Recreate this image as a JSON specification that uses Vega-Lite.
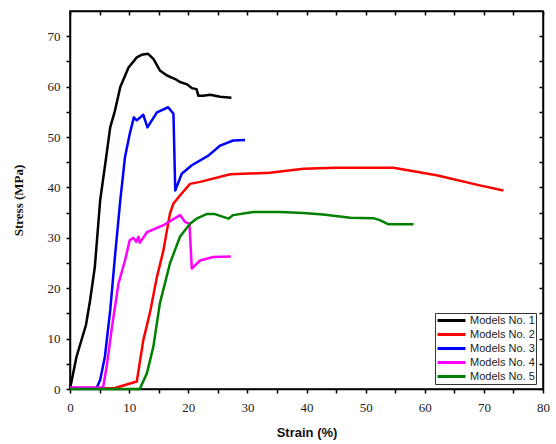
{
  "$schema": "https://vega.github.io/schema/vega-lite/v6.json",
  "width": 473,
  "height": 378,
  "autosize": "none",
  "padding": {"left": 70, "top": 11, "right": 13, "bottom": 55},
  "background": "white",
  "config": {"view": {"stroke": null}, "axis": {"grid": false}},
  "layer": [
    {
      "data": {"values": [{"x0": 0, "x1": 80, "y0": 0, "y1": 75}]},
      "mark": {"type": "rect", "filled": false, "color": "#000", "strokeWidth": 1.5},
      "encoding": {
        "x": {
          "field": "x0", "type": "quantitative",
          "scale": {"domain": [0, 80], "nice": false, "zero": false},
          "axis": {
            "orient": "top",
            "values": [0, 5, 10, 15, 20, 25, 30, 35, 40, 45, 50, 55, 60, 65, 70, 75, 80],
            "labels": false, "title": null,
            "tickSize": -4, "tickColor": "#000", "tickWidth": 1.5,
            "domainColor": "#000", "domainWidth": 1.5
          }
        },
        "x2": {"field": "x1"},
        "y": {
          "field": "y0", "type": "quantitative",
          "scale": {"domain": [0, 75], "nice": false, "zero": false},
          "axis": {
            "orient": "right",
            "values": [0, 5, 10, 15, 20, 25, 30, 35, 40, 45, 50, 55, 60, 65, 70],
            "labels": false, "title": null,
            "tickSize": -4, "tickColor": "#000", "tickWidth": 1.5,
            "domainColor": "#000", "domainWidth": 1.5
          }
        },
        "y2": {"field": "y1"}
      }
    },
    {
      "data": {"values": [
        {"m": "Models No. 1", "x": 0, "y": 0},
        {"m": "Models No. 1", "x": 1.1, "y": 6.4},
        {"m": "Models No. 1", "x": 2.7, "y": 12.7},
        {"m": "Models No. 1", "x": 3.4, "y": 17.6},
        {"m": "Models No. 1", "x": 4.2, "y": 24.2},
        {"m": "Models No. 1", "x": 5.1, "y": 37.4},
        {"m": "Models No. 1", "x": 6.2, "y": 46.7},
        {"m": "Models No. 1", "x": 6.8, "y": 51.9},
        {"m": "Models No. 1", "x": 7.6, "y": 55.2},
        {"m": "Models No. 1", "x": 8.5, "y": 59.9},
        {"m": "Models No. 1", "x": 9.9, "y": 63.8},
        {"m": "Models No. 1", "x": 11.3, "y": 65.8},
        {"m": "Models No. 1", "x": 12.1, "y": 66.3},
        {"m": "Models No. 1", "x": 13.2, "y": 66.5},
        {"m": "Models No. 1", "x": 14.1, "y": 65.5},
        {"m": "Models No. 1", "x": 15.2, "y": 63.2},
        {"m": "Models No. 1", "x": 16.4, "y": 62.2},
        {"m": "Models No. 1", "x": 17.8, "y": 61.5},
        {"m": "Models No. 1", "x": 18.6, "y": 60.9},
        {"m": "Models No. 1", "x": 19.7, "y": 60.5},
        {"m": "Models No. 1", "x": 20.6, "y": 59.7},
        {"m": "Models No. 1", "x": 21.4, "y": 59.5},
        {"m": "Models No. 1", "x": 21.7, "y": 58.2},
        {"m": "Models No. 1", "x": 22.5, "y": 58.2},
        {"m": "Models No. 1", "x": 23.7, "y": 58.4},
        {"m": "Models No. 1", "x": 25.4, "y": 58.0},
        {"m": "Models No. 1", "x": 27.3, "y": 57.8},

        {"m": "Models No. 2", "x": 0, "y": 0.1},
        {"m": "Models No. 2", "x": 5.5, "y": 0.1},
        {"m": "Models No. 2", "x": 7.6, "y": 0.2},
        {"m": "Models No. 2", "x": 9.6, "y": 0.9},
        {"m": "Models No. 2", "x": 11.3, "y": 1.5},
        {"m": "Models No. 2", "x": 12.4, "y": 9.7},
        {"m": "Models No. 2", "x": 13.5, "y": 15.0},
        {"m": "Models No. 2", "x": 14.7, "y": 22.2},
        {"m": "Models No. 2", "x": 15.8, "y": 27.5},
        {"m": "Models No. 2", "x": 16.9, "y": 34.8},
        {"m": "Models No. 2", "x": 17.5, "y": 36.8},
        {"m": "Models No. 2", "x": 18.6, "y": 38.4},
        {"m": "Models No. 2", "x": 20.3, "y": 40.7},
        {"m": "Models No. 2", "x": 22.0, "y": 41.1},
        {"m": "Models No. 2", "x": 27.1, "y": 42.6},
        {"m": "Models No. 2", "x": 33.8, "y": 42.9},
        {"m": "Models No. 2", "x": 39.5, "y": 43.7},
        {"m": "Models No. 2", "x": 45.1, "y": 43.9},
        {"m": "Models No. 2", "x": 54.7, "y": 43.9},
        {"m": "Models No. 2", "x": 62.0, "y": 42.4},
        {"m": "Models No. 2", "x": 69.3, "y": 40.4},
        {"m": "Models No. 2", "x": 73.3, "y": 39.4},

        {"m": "Models No. 3", "x": 0, "y": 0.2},
        {"m": "Models No. 3", "x": 4.5, "y": 0.2},
        {"m": "Models No. 3", "x": 5.1, "y": 1.8},
        {"m": "Models No. 3", "x": 5.9, "y": 6.4},
        {"m": "Models No. 3", "x": 6.8, "y": 15.6},
        {"m": "Models No. 3", "x": 7.6, "y": 26.2},
        {"m": "Models No. 3", "x": 8.5, "y": 37.4},
        {"m": "Models No. 3", "x": 9.3, "y": 46.0},
        {"m": "Models No. 3", "x": 10.1, "y": 50.6},
        {"m": "Models No. 3", "x": 10.8, "y": 53.9},
        {"m": "Models No. 3", "x": 11.3, "y": 53.3},
        {"m": "Models No. 3", "x": 12.4, "y": 54.4},
        {"m": "Models No. 3", "x": 13.1, "y": 51.9},
        {"m": "Models No. 3", "x": 14.7, "y": 54.9},
        {"m": "Models No. 3", "x": 16.6, "y": 55.9},
        {"m": "Models No. 3", "x": 17.5, "y": 54.6},
        {"m": "Models No. 3", "x": 17.8, "y": 39.4},
        {"m": "Models No. 3", "x": 18.9, "y": 42.7},
        {"m": "Models No. 3", "x": 20.6, "y": 44.4},
        {"m": "Models No. 3", "x": 23.4, "y": 46.3},
        {"m": "Models No. 3", "x": 25.4, "y": 48.3},
        {"m": "Models No. 3", "x": 27.6, "y": 49.3},
        {"m": "Models No. 3", "x": 29.6, "y": 49.4},

        {"m": "Models No. 4", "x": 0, "y": 0.3},
        {"m": "Models No. 4", "x": 5.6, "y": 0.3},
        {"m": "Models No. 4", "x": 6.2, "y": 4.4},
        {"m": "Models No. 4", "x": 7.1, "y": 12.3},
        {"m": "Models No. 4", "x": 8.2, "y": 20.9},
        {"m": "Models No. 4", "x": 9.3, "y": 25.5},
        {"m": "Models No. 4", "x": 10.1, "y": 29.5},
        {"m": "Models No. 4", "x": 10.7, "y": 30.0},
        {"m": "Models No. 4", "x": 11.2, "y": 29.2},
        {"m": "Models No. 4", "x": 11.6, "y": 30.2},
        {"m": "Models No. 4", "x": 11.8, "y": 29.0},
        {"m": "Models No. 4", "x": 13.0, "y": 31.1},
        {"m": "Models No. 4", "x": 15.8, "y": 32.5},
        {"m": "Models No. 4", "x": 18.6, "y": 34.5},
        {"m": "Models No. 4", "x": 19.5, "y": 33.1},
        {"m": "Models No. 4", "x": 20.2, "y": 32.8},
        {"m": "Models No. 4", "x": 20.6, "y": 23.9},
        {"m": "Models No. 4", "x": 22.0, "y": 25.5},
        {"m": "Models No. 4", "x": 24.2, "y": 26.2},
        {"m": "Models No. 4", "x": 27.2, "y": 26.3},

        {"m": "Models No. 5", "x": 0, "y": 0},
        {"m": "Models No. 5", "x": 11.8, "y": 0},
        {"m": "Models No. 5", "x": 13.0, "y": 3.1},
        {"m": "Models No. 5", "x": 14.1, "y": 8.4},
        {"m": "Models No. 5", "x": 15.2, "y": 17.0},
        {"m": "Models No. 5", "x": 16.9, "y": 24.9},
        {"m": "Models No. 5", "x": 18.6, "y": 30.2},
        {"m": "Models No. 5", "x": 20.3, "y": 32.8},
        {"m": "Models No. 5", "x": 21.4, "y": 33.8},
        {"m": "Models No. 5", "x": 23.1, "y": 34.7},
        {"m": "Models No. 5", "x": 24.5, "y": 34.7},
        {"m": "Models No. 5", "x": 26.8, "y": 33.8},
        {"m": "Models No. 5", "x": 27.6, "y": 34.5},
        {"m": "Models No. 5", "x": 31.0, "y": 35.1},
        {"m": "Models No. 5", "x": 35.5, "y": 35.1},
        {"m": "Models No. 5", "x": 39.5, "y": 34.9},
        {"m": "Models No. 5", "x": 42.8, "y": 34.6},
        {"m": "Models No. 5", "x": 47.4, "y": 34.0},
        {"m": "Models No. 5", "x": 51.3, "y": 33.9},
        {"m": "Models No. 5", "x": 52.4, "y": 33.5},
        {"m": "Models No. 5", "x": 53.8, "y": 32.7},
        {"m": "Models No. 5", "x": 58.1, "y": 32.7}
      ]},
      "mark": {"type": "line", "strokeWidth": 2.5, "strokeJoin": "round"},
      "encoding": {
        "x": {
          "field": "x", "type": "quantitative",
          "scale": {"domain": [0, 80], "nice": false, "zero": false},
          "axis": {
            "orient": "bottom",
            "values": [0, 5, 10, 15, 20, 25, 30, 35, 40, 45, 50, 55, 60, 65, 70, 75, 80],
            "labelExpr": "datum.value % 10 === 0 ? datum.label : ''",
            "tickSize": 4,
            "tickColor": "#000", "tickWidth": 1.5,
            "domainColor": "#000", "domainWidth": 1.5,
            "labelFont": "Liberation Serif", "labelFontSize": 13, "labelColor": "#222",
            "labelPadding": 8, "labelFlush": false, "labelOverlap": false,
            "title": "Strain (%)",
            "titleFont": "Liberation Sans", "titleFontWeight": "bold", "titleFontSize": 13,
            "titleColor": "#111", "titlePadding": 12
          }
        },
        "y": {
          "field": "y", "type": "quantitative",
          "scale": {"domain": [0, 75], "nice": false, "zero": false},
          "axis": {
            "orient": "left",
            "values": [0, 5, 10, 15, 20, 25, 30, 35, 40, 45, 50, 55, 60, 65, 70],
            "labelExpr": "datum.value % 10 === 0 ? datum.label : ''",
            "tickSize": 4,
            "tickColor": "#000", "tickWidth": 1.5,
            "domainColor": "#000", "domainWidth": 1.5,
            "labelFont": "Liberation Serif", "labelFontSize": 13, "labelColor": "#222",
            "labelPadding": 6, "labelFlush": false, "labelOverlap": false,
            "title": "Stress (MPa)",
            "titleFont": "Liberation Serif", "titleFontWeight": "bold", "titleFontSize": 13,
            "titleColor": "#111", "titlePadding": 22
          }
        },
        "color": {
          "field": "m", "type": "nominal",
          "scale": {
            "domain": ["Models No. 1", "Models No. 2", "Models No. 3", "Models No. 4", "Models No. 5"],
            "range": ["#000000", "#ff0000", "#0000ff", "#ff00ff", "#008000"]
          },
          "legend": {
            "orient": "none", "legendX": 365, "legendY": 302,
            "title": null,
            "symbolType": "M-2.8,0L2.8,0", "symbolStrokeWidth": 3, "symbolSize": 100,
            "symbolOffset": 9, "symbolFillColor": "transparent",
            "labelFont": "Liberation Sans", "labelFontSize": 11, "labelColor": "#222",
            "strokeColor": "#333", "fillColor": "white",
            "padding": 1, "rowPadding": 1, "labelOffset": 12
          }
        }
      }
    }
  ],
  "resolve": {"axis": {"x": "independent", "y": "independent"}}
}
